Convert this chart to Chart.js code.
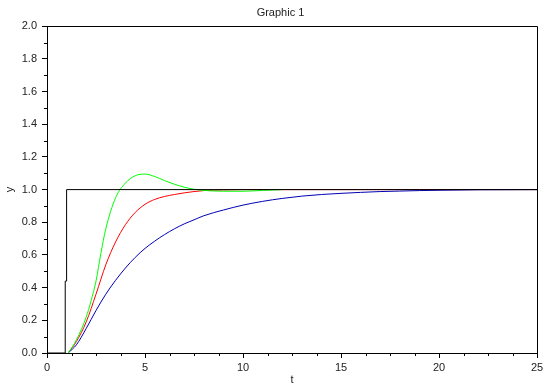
<!DOCTYPE html>
<html>
<head>
<meta charset="utf-8">
<script src="https://cdn.jsdelivr.net/npm/chart.js@4"></script>
<style>
  html, body { margin: 0; padding: 0; background: #fff; }
  #wrap { width: 544px; height: 385px; }
</style>
</head>
<body>
<div id="wrap"><canvas id="c" width="544" height="385"></canvas></div>
<script>
const chartTitle = "Graphic 1";
const xLabel = "t";
const yLabel = "y";

// Step input (black)
const stepT = [0, 0.93, 0.93, 1.0, 1.0, 25];
const stepY = [0, 0, 0.44, 0.44, 1.0, 1.0];

// Green response (overshoot)
const greenT = [1.08, 1.5, 2.0, 2.25, 2.5, 2.75, 3.0, 3.5, 4.0, 4.5, 5.0, 5.5, 6.0, 6.5, 7.0, 7.5, 8.0, 9.0, 10.0, 11.0, 12.0];
const greenY = [0, 0.08, 0.22, 0.32, 0.44, 0.61, 0.76, 0.95, 1.04, 1.085, 1.095, 1.08, 1.055, 1.033, 1.015, 1.002, 0.995, 0.99, 0.99, 0.995, 1.0];

// Red response
const redT = [1.08, 1.5, 2.0, 2.5, 3.0, 3.5, 4.0, 4.5, 5.0, 5.5, 6.0, 6.5, 7.0, 7.5, 8.0, 9.0, 10.0, 25.0];
const redY = [0, 0.07, 0.19, 0.36, 0.54, 0.68, 0.785, 0.86, 0.91, 0.94, 0.958, 0.97, 0.98, 0.988, 0.994, 0.998, 1.0, 1.0];

// Blue response (slowest)
const blueT = [1.08, 1.5, 2.0, 2.5, 3.0, 3.5, 4.0, 4.5, 5.0, 5.5, 6.0, 6.5, 7.0, 7.5, 8.0, 9.0, 10.0, 11.0, 12.0, 13.0, 14.0, 15.0, 16.0, 17.0, 18.0, 19.0, 20.0, 22.0, 25.0];
const blueY = [0, 0.05, 0.15, 0.26, 0.36, 0.445, 0.52, 0.585, 0.64, 0.685, 0.725, 0.76, 0.79, 0.815, 0.84, 0.875, 0.905, 0.928, 0.946, 0.96, 0.97, 0.977, 0.983, 0.988, 0.991, 0.994, 0.996, 0.999, 1.0];

// Axis ticks
const xMajorTicks = [0, 5, 10, 15, 20, 25];
const xMinorStep = 1.25;
const yMajorTicks = [0, 0.2, 0.4, 0.6, 0.8, 1.0, 1.2, 1.4, 1.6, 1.8, 2.0];
const yMinorStep = 0.1;

const pts = (ts, ys) => ts.map((t, i) => ({ x: t, y: ys[i] }));

const minorTicks = {
  id: 'minorTicks',
  afterLayout(chart) {
    // centre the title the way the original graphic does
    if (chart.titleBlock) { chart.titleBlock.left = 24; chart.titleBlock.right = 537; }
  },
  afterDraw(chart) {
    const { ctx, chartArea: a } = chart;
    const xs = chart.scales.x, ys = chart.scales.y;
    ctx.save();
    ctx.strokeStyle = '#000';
    ctx.lineWidth = 1;
    ctx.beginPath();
    for (let v = 0; v <= 25 + 1e-9; v += xMinorStep) {
      if (xMajorTicks.some(m => Math.abs(m - v) < 1e-6)) continue;
      const px = Math.round(xs.getPixelForValue(v)) + 0.5;
      ctx.moveTo(px, a.bottom);
      ctx.lineTo(px, a.bottom + 3);
    }
    for (let v = 0; v <= 2 + 1e-9; v += yMinorStep) {
      if (yMajorTicks.some(m => Math.abs(m - v) < 1e-6)) continue;
      const py = Math.round(ys.getPixelForValue(v)) + 0.5;
      ctx.moveTo(a.left, py);
      ctx.lineTo(a.left - 3, py);
    }
    ctx.stroke();
    // frame
    ctx.beginPath();
    ctx.rect(Math.round(a.left) + 0.5, Math.round(a.top) + 0.5, Math.round(a.right - a.left), Math.round(a.bottom - a.top));
    ctx.stroke();
    ctx.restore();
  }
};

const tickFont = { family: '"Liberation Sans", Arial, sans-serif', size: 11 };

new Chart(document.getElementById('c'), {
  type: 'line',
  data: {
    datasets: [
      { label: 'step', data: pts(stepT, stepY), borderColor: '#000000', borderWidth: 1, tension: 0, pointRadius: 0 },
      { label: 'green', data: pts(greenT, greenY), borderColor: '#00ff00', borderWidth: 1, cubicInterpolationMode: 'monotone', pointRadius: 0 },
      { label: 'blue', data: pts(blueT, blueY), borderColor: '#0000b4', borderWidth: 1, cubicInterpolationMode: 'monotone', pointRadius: 0 },
      { label: 'red', data: pts(redT, redY), borderColor: '#ff0000', borderWidth: 1, cubicInterpolationMode: 'monotone', pointRadius: 0 }
    ]
  },
  options: {
    responsive: false,
    animation: false,
    events: [],
    layout: { padding: { left: 0, right: 7, top: 0, bottom: 0 } },
    plugins: {
      legend: { display: false },
      tooltip: { enabled: false },
      title: {
        display: true,
        text: chartTitle,
        color: '#222',
        font: { family: '"Liberation Sans", Arial, sans-serif', size: 11, weight: 'normal' },
        padding: { top: 6, bottom: 7 }
      }
    },
    scales: {
      x: {
        type: 'linear',
        min: 0, max: 25,
        afterBuildTicks: (s) => { s.ticks = xMajorTicks.map(v => ({ value: v })); },
        ticks: { font: tickFont, color: '#222', padding: 3, maxRotation: 0, autoSkip: false, callback: (v) => String(v) },
        grid: { drawOnChartArea: false, drawTicks: true, tickLength: 5, tickColor: '#000' },
        border: { display: true, color: '#000' },
        title: { display: true, text: xLabel, color: '#222', font: tickFont, padding: { top: 0, bottom: -2 } },
        afterFit: (s) => { s.height = 32; s.paddingLeft = 0; s.paddingRight = 0; }
      },
      y: {
        type: 'linear',
        min: 0, max: 2,
        afterBuildTicks: (s) => { s.ticks = yMajorTicks.map(v => ({ value: v })); },
        ticks: { font: tickFont, color: '#222', padding: 5, autoSkip: false, callback: (v) => Number(v).toFixed(1) },
        grid: { drawOnChartArea: false, drawTicks: true, tickLength: 5, tickColor: '#000' },
        border: { display: true, color: '#000' },
        title: { display: true, text: yLabel, color: '#222', font: tickFont, padding: { top: 3, bottom: 0 } },
        afterFit: (s) => { s.width = 47; s.paddingTop = 0; s.paddingBottom = 0; }
      }
    }
  },
  plugins: [minorTicks]
});
</script>
</body>
</html>
